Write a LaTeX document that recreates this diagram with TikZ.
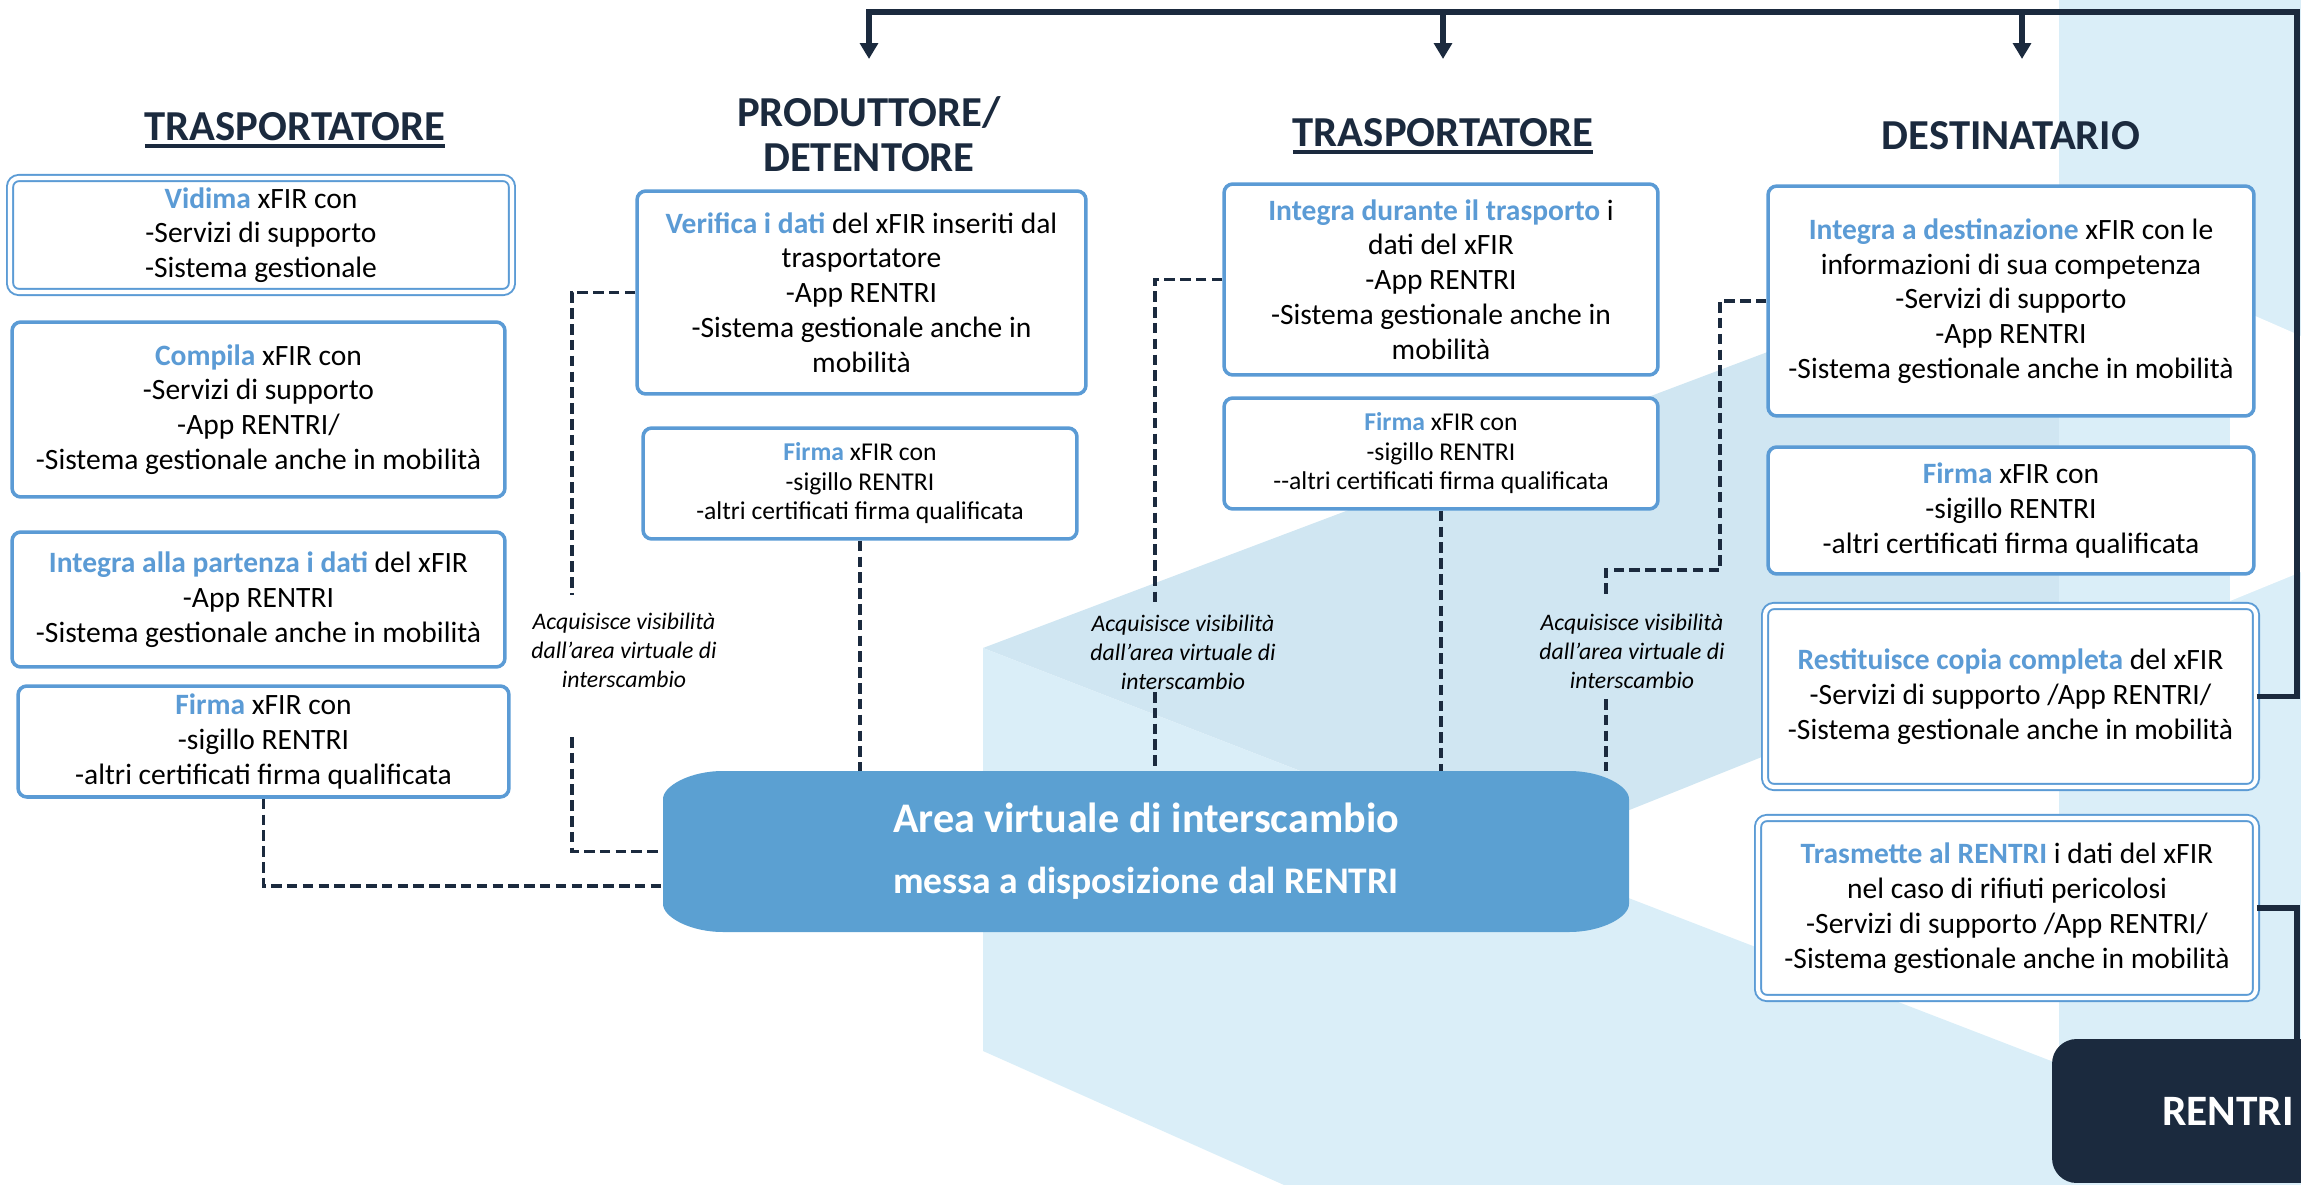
\documentclass[tikz,border=0pt]{standalone}
\usepackage{fontspec}
\setmainfont{Carlito}
\usetikzlibrary{arrows.meta}
\definecolor{navy}{HTML}{1B2A3E}
\definecolor{boxblue}{HTML}{5B9BD5}
\definecolor{areablue}{HTML}{5BA0D2}
\definecolor{bglight}{HTML}{DAEEF8}
\definecolor{bgdark}{HTML}{D0E6F2}
\newcommand{\hl}[1]{\textcolor{boxblue}{\textbf{#1}}}% parole evidenziate
\newcommand{\titul}[1]{\setbox0\hbox{#1}\rlap{\raisebox{-4pt}{\rule{\wd0}{1.8pt}}}\box0}% titolo sottolineato
\tikzset{
  title/.style = {font=\fontsize{24.3}{25.6}\selectfont\bfseries, text=navy,
    align=center, inner sep=0pt},
  box/.style = {draw=boxblue, line width=2pt, rounded corners=5pt, fill=white,
    align=center, inner sep=0pt, font=\fontsize{16.8}{19.8}\selectfont},% riquadro semplice
  dbox/.style = {box, line width=1.1pt, double=white, double distance=2.4pt},% riquadro doppio
  sbox/.style = {box, font=\fontsize{14.6}{16.8}\selectfont},% riquadro testo piccolo
  note/.style = {align=center, inner sep=0pt,
    font=\fontsize{13.5}{16.5}\selectfont\itshape},
  dashline/.style = {draw=navy, line width=2pt, dash pattern=on 6pt off 3pt},
  flow/.style = {draw=navy, line width=3.2pt},
  tip/.style = {-{Triangle[width=10pt,length=9pt]}}
}
\begin{document}
\begin{tikzpicture}[x=0.02cm, y=-0.02cm]
\useasboundingbox (0,0) rectangle (2301,1185);
\clip (0,0) rectangle (2301,1185);
% sfondo a cubi
\fill[bgdark] (983,648) -- (2059,242) -- (2059,638) -- (1517,855) -- cycle;
\fill[bglight] (983,648) -- (1517,855) -- (2059,1064) -- (2059,1185)
  -- (1284,1185) -- (983,1051) -- cycle;
\fill[bglight] (2059,0) rectangle (2301,1185);
\fill[white] (2230,305) -- (2301,336) -- (2301,572) -- (2230,601) -- cycle;

% area virtuale
\fill[areablue] (663,799) .. controls (663,786) and (690,771) .. (723,771)
  -- (1569,771) .. controls (1602,771) and (1629,786) .. (1629,799)
  -- (1629,904) .. controls (1629,917) and (1602,932) .. (1569,932)
  -- (723,932) .. controls (690,932) and (663,917) .. (663,904) -- cycle;
\node[minimum width=19.32cm, minimum height=3.22cm, text=white, align=center,
  font=\fontsize{21.4}{34.7}\selectfont\bfseries] (area) at (1146,851.5)
  {{\fontsize{24}{28}\selectfont Area virtuale di interscambio}\\
   messa a disposizione dal RENTRI};
\node[fill=navy, rounded corners=14pt, minimum width=7.04cm, minimum height=2.88cm,
  text=white, font=\fontsize{24.7}{28}\selectfont\bfseries] (rentri) at (2228,1111) {RENTRI};

% titoli
\node[title] (tit1) at (295,130) {\titul{TRASPORTATORE}};
\node[title] (tit2) at (869,134) {PRODUTTORE/\\DETENTORE};
\node[title] (tit3) at (1443,136) {\titul{TRASPORTATORE}};
\node[title] (tit4) at (2011,136) {DESTINATARIO};

% trasportatore
\node[dbox, minimum width=10.04cm, minimum height=2.28cm] (vidima) at (261,235)
  {\hl{Vidima} xFIR con\\-Servizi di supporto\\-Sistema gestionale};
\node[box, minimum width=9.86cm, minimum height=3.5cm] (compila) at (258.5,409.5)
  {\hl{Compila} xFIR con\\-Servizi di supporto\\-App RENTRI/\\-Sistema gestionale anche in mobilità};
\node[box, minimum width=9.86cm, minimum height=2.7cm] (partenza) at (258.5,599.5)
  {\hl{Integra alla partenza i dati} del xFIR\\-App RENTRI\\-Sistema gestionale anche in mobilità};
\node[box, minimum width=9.82cm, minimum height=2.22cm] (firmaA) at (263.5,741.5)
  {\hl{Firma} xFIR con\\-sigillo RENTRI\\-altri certificati firma qualificata};

% produttore / detentore
\node[box, minimum width=8.98cm, minimum height=4.06cm] (verifica) at (861.5,292.5)
  {\hl{Verifica i dati} del xFIR inseriti dal\\trasportatore\\-App RENTRI\\-Sistema gestionale anche in\\mobilità};
\node[sbox, minimum width=8.68cm, minimum height=2.22cm] (firmaB) at (860,483.5)
  {\hl{Firma} xFIR con\\-sigillo RENTRI\\-altri certificati firma qualificata};

% trasportatore in viaggio
\node[box, minimum width=8.68cm, minimum height=3.82cm] (durante) at (1441,279.5)
  {\hl{Integra durante il trasporto} i\\dati del xFIR\\-App RENTRI\\-Sistema gestionale anche in\\mobilità};
\node[sbox, minimum width=8.68cm, minimum height=2.22cm] (firmaC) at (1441,453.5)
  {\hl{Firma} xFIR con\\-sigillo RENTRI\\-{}-altri certificati firma qualificata};

% destinatario
\node[box, minimum width=9.72cm, minimum height=4.6cm] (destin) at (2011,301)
  {\hl{Integra a destinazione} xFIR con le\\informazioni di sua competenza\\-Servizi di supporto\\-App RENTRI\\-Sistema gestionale anche in mobilità};
\node[box, minimum width=9.72cm, minimum height=2.54cm] (firmaD) at (2011,510.5)
  {\hl{Firma} xFIR con\\-sigillo RENTRI\\-altri certificati firma qualificata};
\node[dbox, minimum width=9.82cm, minimum height=3.62cm] (restit) at (2010.5,696.5)
  {\hl{Restituisce copia completa} del xFIR\\-Servizi di supporto /App RENTRI/\\-Sistema gestionale anche in mobilità};
\node[dbox, minimum width=9.96cm, minimum height=3.6cm] (trasm) at (2007,908)
  {\hl{Trasmette al RENTRI} i dati del xFIR\\nel caso di rifiuti pericolosi\\-Servizi di supporto /App RENTRI/\\-Sistema gestionale anche in mobilità};

% etichette
\node[note] (lab1) at (624,650) {Acquisisce visibilità\\dall’area virtuale di\\interscambio};
\node[note] (lab2) at (1183,652) {Acquisisce visibilità\\dall’area virtuale di\\interscambio};
\node[note] (lab3) at (1632,651) {Acquisisce visibilità\\dall’area virtuale di\\interscambio};

% collegamenti tratteggiati
\coordinate (lowA) at (663,886);
\coordinate (g1) at (572,595);
\coordinate (g2) at (572,737);
\coordinate (g3) at (1155,607);
\coordinate (g4) at (1155,692);
\coordinate (g5) at (1720,570);
\coordinate (g6) at (1606,597);
\coordinate (g7) at (1606,699);
\draw[dashline] (firmaA.south) |- (lowA);
\draw[dashline] (verifica.west) -| (g1);
\draw[dashline] (g2) |- (area.west);
\draw[dashline] (firmaB.south) -- (firmaB.south |- area.north);
\draw[dashline] (durante.west) -| (g3);
\draw[dashline] (g4) -- (g4 |- area.north);
\draw[dashline] (firmaC.south) -- (firmaC.south |- area.north);
\draw[dashline] (destin.west) -| (g5) -| (g6);
\draw[dashline] (g7) -- (g7 |- area.north);

% ritorno e invio al RENTRI
\coordinate (cr) at (2297,12);
\coordinate (a1) at (869,59);
\coordinate (a2) at (1443,59);
\coordinate (a3) at (2022,59);
\draw[flow, tip] (restit.east) -| (cr) -| (a1);
\draw[flow, tip] (a2 |- cr) -- (a2);
\draw[flow, tip] (a3 |- cr) -- (a3);
\draw[flow] (trasm.east) -| (cr |- rentri.north);
\end{tikzpicture}
\end{document}
